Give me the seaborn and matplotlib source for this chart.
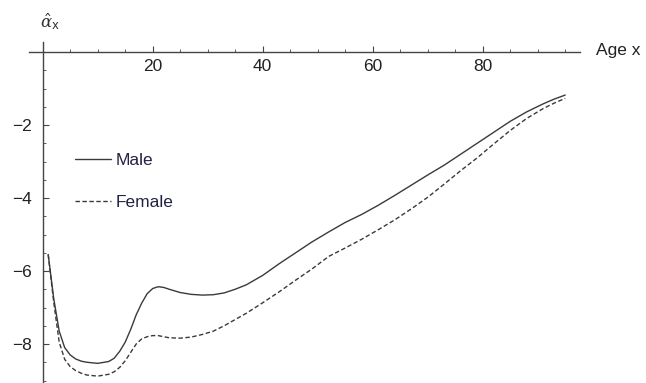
import matplotlib
matplotlib.use("Agg")
import matplotlib.pyplot as plt
import seaborn as sns
import pandas as pd
from matplotlib.ticker import FixedLocator

ages = [1, 2, 3, 4, 5, 6, 7, 8, 10, 12, 13, 14, 15, 16, 17, 18, 19, 20, 21, 22, 23,
        25, 27, 29, 31, 33, 35, 37, 40, 43, 46, 49, 52, 55, 58, 61, 64, 67, 70, 73,
        76, 79, 82, 85, 88, 91, 93, 95]
male = [-5.55, -6.75, -7.65, -8.1, -8.3, -8.41, -8.47, -8.5, -8.53, -8.48, -8.39, -8.2,
        -7.95, -7.6, -7.2, -6.88, -6.62, -6.48, -6.43, -6.45, -6.5,
        -6.59, -6.64, -6.66, -6.65, -6.6, -6.5, -6.38, -6.12, -5.8, -5.5, -5.2, -4.93,
        -4.67, -4.45, -4.2, -3.93, -3.65, -3.37, -3.1, -2.8, -2.5, -2.2, -1.9, -1.64,
        -1.42, -1.29, -1.18]
female = [-5.55, -6.85, -7.95, -8.42, -8.62, -8.73, -8.8, -8.85, -8.88, -8.83, -8.76, -8.64,
          -8.46, -8.23, -8.0, -7.86, -7.8, -7.77, -7.77, -7.8, -7.83,
          -7.84, -7.81, -7.74, -7.65, -7.5, -7.33, -7.16, -6.87, -6.57, -6.25, -5.94, -5.6,
          -5.37, -5.13, -4.87, -4.6, -4.3, -3.98, -3.62, -3.25, -2.9, -2.52, -2.15, -1.82,
          -1.55, -1.4, -1.27]
series_names = ["Male", "Female"]
x_ticks = [20, 40, 60, 80]
x_minor = [5, 10, 15, 25, 30, 35, 45, 50, 55, 65, 70, 75, 85, 90, 95]
y_ticks = [-2, -4, -6, -8]
y_minor = [-0.5, -1, -1.5, -2.5, -3, -3.5, -4.5, -5, -5.5, -6.5, -7, -7.5, -8.5, -9]

df = pd.concat([
    pd.DataFrame({"Age": ages, "alpha": male, "Sex": series_names[0]}),
    pd.DataFrame({"Age": ages, "alpha": female, "Sex": series_names[1]}),
])

sns.set_style("white")
plt.rcParams["font.family"] = ["Liberation Sans", "DejaVu Sans"]
plt.rcParams["mathtext.fontset"] = "dejavuserif"

W, H = 646, 383
fig = plt.figure(figsize=(W / 100, H / 100), dpi=100)
ax = fig.add_axes([0, 0, 1, 1])

# pixel mapping: x=0 at px 42.7, 5.5 px/yr; y=0 at px 52, 36.5 px/unit
x0, sx = 42.7, 5.5
y0, sy = 52.0, 36.5
ax.set_xlim(-x0 / sx, (W - x0) / sx)
ax.set_ylim(-(H - y0) / sy, y0 / sy)

col = "#3a3a3a"
sns.lineplot(data=df, x="Age", y="alpha", style="Sex", ax=ax,
             dashes={"Male": "", "Female": (3.2, 1.8)}, color=col, lw=1.0,
             legend=False, estimator=None, sort=False)

for s in ["top", "right"]:
    ax.spines[s].set_visible(False)
ax.spines["bottom"].set_position(("data", 0))
ax.spines["left"].set_position(("data", 0))
ax.spines["bottom"].set_bounds(-2.5, 97.7)
ax.spines["left"].set_bounds(-9.2, 0.27)
for s in ["bottom", "left"]:
    ax.spines[s].set_color("#444444")
    ax.spines[s].set_linewidth(1.0)

ax.set_xticks(x_ticks)
ax.set_yticks(y_ticks)
ax.set_yticklabels([f"\u2212{abs(v)}" for v in y_ticks])
ax.xaxis.set_minor_locator(FixedLocator(x_minor))
ax.yaxis.set_minor_locator(FixedLocator(y_minor))
ax.tick_params(which="both", bottom=True, left=True, top=False, right=False)
ax.tick_params(which="major", direction="in", length=4.5, width=0.8, color="#444444",
               labelsize=12.5, labelcolor="#222222")
ax.tick_params(which="minor", direction="in", length=2.5, width=0.6, color="#444444")
ax.tick_params(axis="x", which="major", pad=5)
ax.tick_params(axis="y", which="major", pad=8)
ax.set_xlabel("")
ax.set_ylabel("")

lines = ax.get_lines()
leg = ax.legend(lines[:2], series_names, loc="upper left",
                bbox_to_anchor=(75 / W, 1 - 153 / H), frameon=False, fontsize=12.5,
                handlelength=2.1, handletextpad=0.25, labelspacing=1.52,
                borderaxespad=0, borderpad=0)
for t in leg.get_texts():
    t.set_color("#222244")

fig.text(40 / W, 1 - 22 / H, r"$\hat{\alpha}_{\mathsf{x}}$", fontsize=12,
         ha="left", va="center", color="#333333")
fig.text(596 / W, 1 - 51 / H, "Age x", fontsize=12.5, ha="left", va="center",
         color="#222222")

fig.savefig("out.png", dpi=100)
